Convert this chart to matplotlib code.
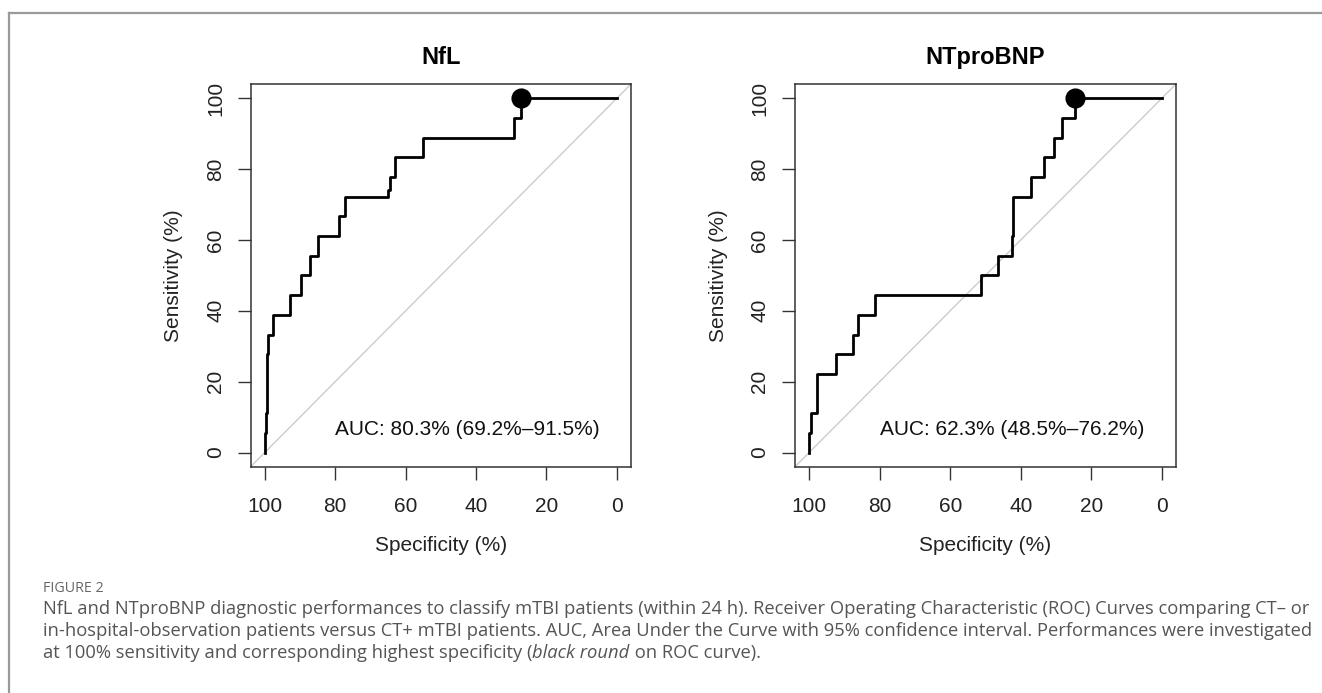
import matplotlib
matplotlib.use('Agg')
import matplotlib.pyplot as plt

# ROC curves (specificity %, sensitivity %)
nfl_spec = [100, 100, 99.7, 99.7, 99.4, 99.4, 99.1, 99.1, 97.8, 97.8, 92.7, 92.7,
            89.7, 89.7, 87.1, 87.1, 84.9, 84.9, 78.8, 78.8, 77.1, 77.1, 64.9, 64.9,
            64.4, 64.4, 63.0, 63.0, 55.0, 55.0, 29.2, 29.2, 27.3, 27.3, 0]
nfl_sens = [0, 5.6, 5.6, 11.1, 11.1, 27.8, 27.8, 33.3, 33.3, 38.9, 38.9, 44.4,
            44.4, 50, 50, 55.6, 55.6, 61.1, 61.1, 66.7, 66.7, 72.2, 72.2, 74.1,
            74.1, 77.8, 77.8, 83.3, 83.3, 88.9, 88.9, 94.4, 94.4, 100, 100]

bnp_spec = [100, 100, 99.5, 99.5, 97.8, 97.8, 92.5, 92.5, 87.5, 87.5, 86.1, 86.1,
            81.2, 81.2, 51.3, 51.3, 46.4, 46.4, 42.4, 42.4, 42.1, 42.1, 37.0, 37.0,
            33.5, 33.5, 30.7, 30.7, 28.2, 28.2, 24.6, 24.6, 0]
bnp_sens = [0, 5.6, 5.6, 11.1, 11.1, 22.2, 22.2, 27.8, 27.8, 33.3, 33.3, 38.9,
            38.9, 44.4, 44.4, 50, 50, 55.6, 55.6, 61.1, 61.1, 72.2, 72.2, 77.8,
            77.8, 83.3, 83.3, 88.9, 88.9, 94.4, 94.4, 100, 100]

# best point at 100% sensitivity
nfl_best = (27.3, 100)
bnp_best = (24.6, 100)

titles = ['NfL', 'NTproBNP']
auc_labels = ['AUC: 80.3% (69.2%\u201391.5%)', 'AUC: 62.3% (48.5%\u201376.2%)']
ticks = [100, 80, 60, 40, 20, 0]

plt.rcParams['font.family'] = ['Liberation Sans', 'DejaVu Sans']

fig = plt.figure(figsize=(13.22, 6.93), dpi=100)
W, H = 1322, 693

def px_axes(left, top, right, bottom):
    return fig.add_axes([left / W, 1 - bottom / H, (right - left) / W, (bottom - top) / H])

ax1 = px_axes(250.7, 84, 631, 466.7)
ax2 = px_axes(795, 84, 1176, 466.7)

curves = [(nfl_spec, nfl_sens, nfl_best), (bnp_spec, bnp_sens, bnp_best)]

for ax, (sp, se, best), title, auc in zip([ax1, ax2], curves, titles, auc_labels):
    ax.axline((100, 0), (0, 100), color='#cccccc', lw=1.0, zorder=1)
    ax.plot(sp, se, color='black', lw=2.0, zorder=2)
    ax.plot(best[0], best[1], 'o', color='black', markersize=13.5, zorder=3)
    ax.set_xlim(104, -4)
    ax.set_ylim(-4, 104)
    ax.set_xticks(ticks)
    ax.set_yticks(ticks[::-1])
    ax.tick_params(length=9.5, width=1.0, color='#333333', labelsize=15,
                   labelcolor='#222222')
    ax.tick_params(axis='x', pad=12)
    ax.tick_params(axis='y', pad=9)
    for lab in ax.get_yticklabels():
        lab.set_rotation(90)
        lab.set_va('center')
    for s in ax.spines.values():
        s.set_color('#333333')
        s.set_linewidth(1.1)
    ax.text(80, 6.6, auc, ha='left', va='center', fontsize=15, color='#111111')
    ax.text(0.5, 1.068, title, transform=ax.transAxes, ha='center', va='center',
            fontsize=17, fontweight='bold')
    ax.text(0.5, -0.205, 'Specificity (%)', transform=ax.transAxes,
            ha='center', va='center', fontsize=15, color='#222222')
    ax.text(-0.202, 0.5, 'Sensitivity (%)', transform=ax.transAxes, rotation=90,
            ha='center', va='center', fontsize=15, color='#222222')

# panel frame
fig.add_artist(plt.Line2D([9 / W, 1], [1 - 12.5 / H, 1 - 12.5 / H], color='#9a9a9a', lw=1.6))
fig.add_artist(plt.Line2D([9 / W, 9 / W], [0, 1 - 12.5 / H], color='#9a9a9a', lw=1.6))

# caption
cap_font = ['Open Sans', 'DejaVu Sans']
cap_col = '#555555'
cap_size = 13.25
fig.text(43 / W, 1 - 588 / H, 'FIGURE 2', fontsize=10.3, color='#666666',
         family=cap_font, va='center')
lines = [
    'NfL and NTproBNP diagnostic performances to classify mTBI patients (within 24 h). '
    'Receiver Operating Characteristic (ROC) Curves comparing CT\u2013 or',
    'in-hospital-observation patients versus CT+ mTBI patients. AUC, Area Under the Curve '
    'with 95% confidence interval. Performances were investigated',
]
for i, ln in enumerate(lines):
    fig.text(43 / W, 1 - (609 + 22 * i) / H, ln, fontsize=cap_size, color=cap_col,
             family=cap_font, va='center')

t1 = fig.text(43 / W, 1 - 653 / H, 'at 100% sensitivity and corresponding highest specificity (',
              fontsize=cap_size, color=cap_col, family=cap_font, va='center')
t2 = ax1.annotate('black round', xy=(1, 0), xycoords=t1, fontsize=cap_size, color=cap_col,
                  family=cap_font, style='italic', va='bottom', ha='left',
                  annotation_clip=False)
ax1.annotate(' on ROC curve).', xy=(1, 0), xycoords=t2, fontsize=cap_size, color=cap_col,
             family=cap_font, va='bottom', ha='left', annotation_clip=False)

fig.savefig('out.png', dpi=100)
